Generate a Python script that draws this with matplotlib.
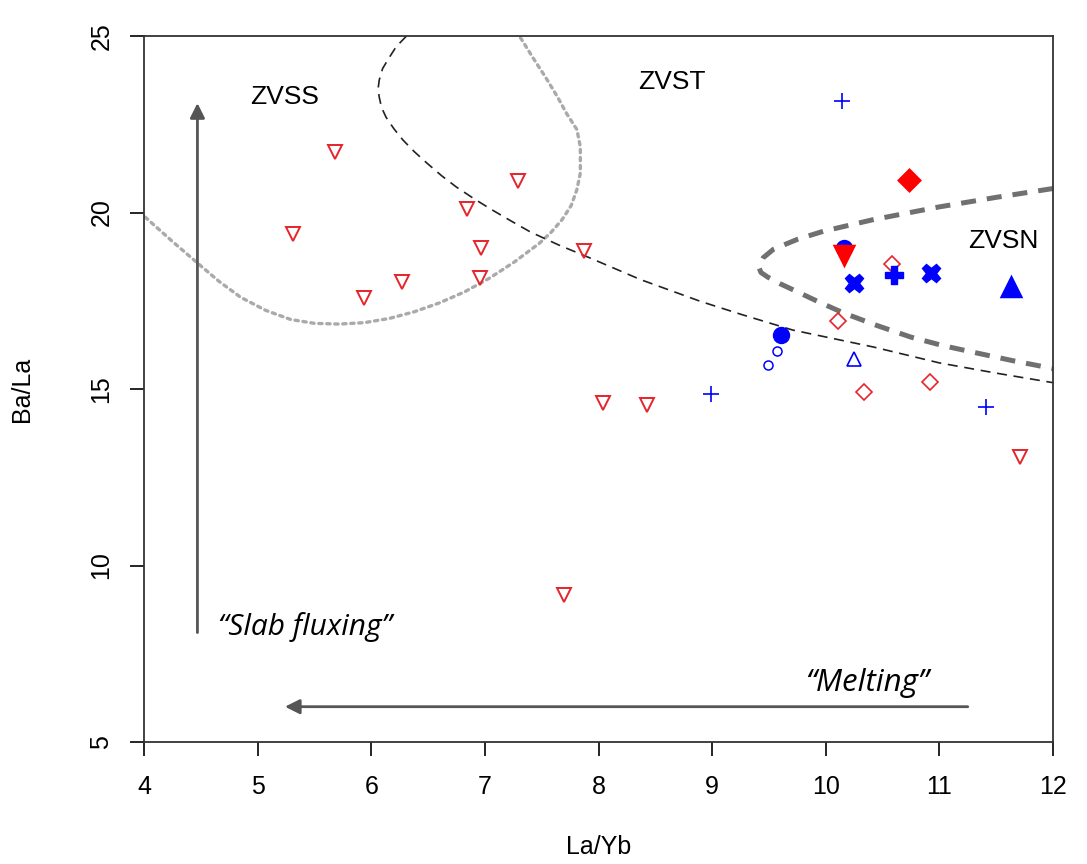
import numpy as np
import matplotlib
matplotlib.use("Agg")
import matplotlib.pyplot as plt

plt.rcParams["font.family"] = ["Liberation Sans", "DejaVu Sans"]

# --- data (La/Yb, Ba/La) ---
# open red inverted triangles
tri_open_x = [5.68, 5.31, 5.94, 6.27, 6.84, 6.97, 6.96, 7.29, 7.87, 8.04, 8.43, 7.70, 11.71]
tri_open_y = [21.71, 19.39, 17.58, 18.03, 20.10, 19.00, 18.14, 20.89, 18.91, 14.60, 14.55, 9.16, 13.07]
# open red diamonds
dia_open_x = [10.58, 10.11, 10.34, 10.92]
dia_open_y = [18.54, 16.93, 14.92, 15.20]
# thin blue plus
plus_x = [10.14, 8.99, 11.41]
plus_y = [23.16, 14.86, 14.49]
# small open blue circles
circ_open_x = [9.57, 9.49]
circ_open_y = [16.08, 15.68]
# open blue triangle
tri_up_open_x = [10.25]
tri_up_open_y = [15.85]
# filled blue circles
circ_fill_x = [9.61, 10.16]
circ_fill_y = [16.53, 19.00]
# filled blue X
x_fill_x = [10.25, 10.93]
x_fill_y = [18.00, 18.29]
# filled blue plus
plus_fill_x = [10.60]
plus_fill_y = [18.23]
# filled blue triangle
tri_up_fill_x = [11.63]
tri_up_fill_y = [17.89]
# filled red diamond
dia_fill_x = [10.73]
dia_fill_y = [20.92]
# filled red inverted triangle
tri_fill_x = [10.16]
tri_fill_y = [18.80]

zvss_x = [4.01, 4.25, 4.47, 4.66, 4.85, 5.07, 5.29, 5.50, 5.72, 5.94, 6.16, 6.38, 6.60,
          6.82, 7.04, 7.26, 7.48, 7.58, 7.68, 7.76, 7.81, 7.84, 7.84, 7.81, 7.72, 7.64, 7.55, 7.43, 7.31]
zvss_y = [19.87, 19.18, 18.57, 18.05, 17.60, 17.23, 16.97, 16.86, 16.84, 16.88, 17.00, 17.19, 17.44,
          17.75, 18.14, 18.60, 19.13, 19.43, 19.80, 20.20, 20.65, 21.12, 21.86, 22.35, 22.80, 23.27, 23.75, 24.35, 24.97]
zvst_x = [6.31, 6.22, 6.16, 6.10, 6.07, 6.06, 6.07, 6.09, 6.13, 6.20, 6.28, 6.38, 6.49, 6.62, 6.75,
          6.90, 7.05, 7.22, 7.40, 7.65, 7.92, 8.37, 8.90, 9.25, 9.71, 10.42, 11.00, 11.50, 12.00]
zvst_y = [25.00, 24.70, 24.40, 24.08, 23.75, 23.50, 23.27, 22.98, 22.70, 22.37, 22.05, 21.72, 21.40, 21.04, 20.72,
          20.40, 20.10, 19.78, 19.45, 19.08, 18.72, 18.10, 17.48, 17.12, 16.67, 16.19, 15.74, 15.45, 15.18]
zvsn_x = [12.00, 11.50, 11.00, 10.42, 9.98, 9.75, 9.54, 9.45, 9.41, 9.43, 9.49, 9.60, 9.72, 9.93, 10.16,
          10.45, 10.75, 11.03, 11.33, 11.65, 12.00]
zvsn_y = [20.68, 20.43, 20.16, 19.80, 19.47, 19.24, 18.96, 18.72, 18.46, 18.30, 18.17, 17.98, 17.80, 17.48, 17.15,
          16.80, 16.47, 16.23, 16.02, 15.80, 15.58]

xticks = [4, 5, 6, 7, 8, 9, 10, 11, 12]
yticks = [5, 10, 15, 20, 25]

red = "#e5242b"
blue = "#0000ff"

fig = plt.figure(figsize=(10.87, 8.64), dpi=100)
ax = fig.add_axes([0.1325, 0.1412, 0.8362, 0.8171])

ax.plot(zvss_x, zvss_y, color="#aaaaaa", lw=2.4, ls=(0, (1, 1.4)), dash_capstyle="round")
ax.plot(zvst_x, zvst_y, color="#222222", lw=1.2, ls=(0, (6, 4)))
ax.plot(zvsn_x, zvsn_y, color="#707070", lw=3.6, ls=(0, (3, 2.2)))

ax.plot(tri_open_x, tri_open_y, "v", ms=10.5, mfc="none", mec=red, mew=1.4, ls="none")
ax.plot(dia_open_x, dia_open_y, "D", ms=7.8, mfc="none", mec=red, mew=1.2, ls="none")
ax.plot(plus_x, plus_y, "+", ms=11, mec=blue, mew=1.2, ls="none")
ax.plot(circ_open_x, circ_open_y, "o", ms=6.5, mfc="none", mec=blue, mew=1.1, ls="none")
ax.plot(tri_up_open_x, tri_up_open_y, "^", ms=10, mfc="none", mec=blue, mew=1.2, ls="none")
ax.plot(circ_fill_x, circ_fill_y, "o", ms=11.5, color=blue, ls="none")
ax.plot(x_fill_x, x_fill_y, "X", ms=13.5, color=blue, ls="none")
ax.plot(plus_fill_x, plus_fill_y, "P", ms=13.5, color=blue, ls="none")
ax.plot(tri_up_fill_x, tri_up_fill_y, "^", ms=12.5, color=blue, mew=2.5, ls="none")
ax.plot(dia_fill_x, dia_fill_y, "D", ms=10.5, color="#ff0000", mew=2.5, ls="none")
ax.plot(tri_fill_x, tri_fill_y, "v", ms=13, color="#ff0000", mew=2.5, ls="none")

# arrows
ax.annotate("", xy=(4.47, 23.1), xytext=(4.47, 8.1),
            arrowprops=dict(arrowstyle="-|>", color="#555555", lw=2,
                            mutation_scale=22, shrinkA=0, shrinkB=0))
ax.annotate("", xy=(5.24, 6.0), xytext=(11.25, 6.0),
            arrowprops=dict(arrowstyle="-|>", color="#555555", lw=2,
                            mutation_scale=22, shrinkA=0, shrinkB=0))

ax.text(5.24, 23.27, "ZVSS", fontsize=19, ha="center", va="center")
ax.text(8.65, 23.70, "ZVST", fontsize=19, ha="center", va="center")
ax.text(11.56, 19.20, "ZVSN", fontsize=19, ha="center", va="center")
ax.text(5.42, 8.26, "\u201cSlab fluxing\u201d", fontsize=21.5, style="italic",
        family=["Open Sans", "DejaVu Sans"], ha="center", va="center")
ax.text(10.36, 6.67, "\u201cMelting\u201d", fontsize=22.5, style="italic",
        family=["Open Sans", "DejaVu Sans"], ha="center", va="center")

ax.set_xlim(4, 12)
ax.set_ylim(5, 25)
ax.set_xticks(xticks)
ax.set_yticks(yticks)
ax.set_xticklabels([str(t) for t in xticks], fontsize=18)
ax.set_yticklabels([str(t) for t in yticks], fontsize=18, rotation=90, va="center")
ax.tick_params(axis="x", length=10, width=1.2, pad=14)
ax.tick_params(axis="y", length=10, width=1.2, pad=12)
for s in ax.spines.values():
    s.set_color("#333333")
    s.set_linewidth(1.3)

ax.set_xlabel("La/Yb", fontsize=18, labelpad=26)
ax.set_ylabel("Ba/La", fontsize=18, labelpad=40)

fig.savefig("out.png", dpi=100)
